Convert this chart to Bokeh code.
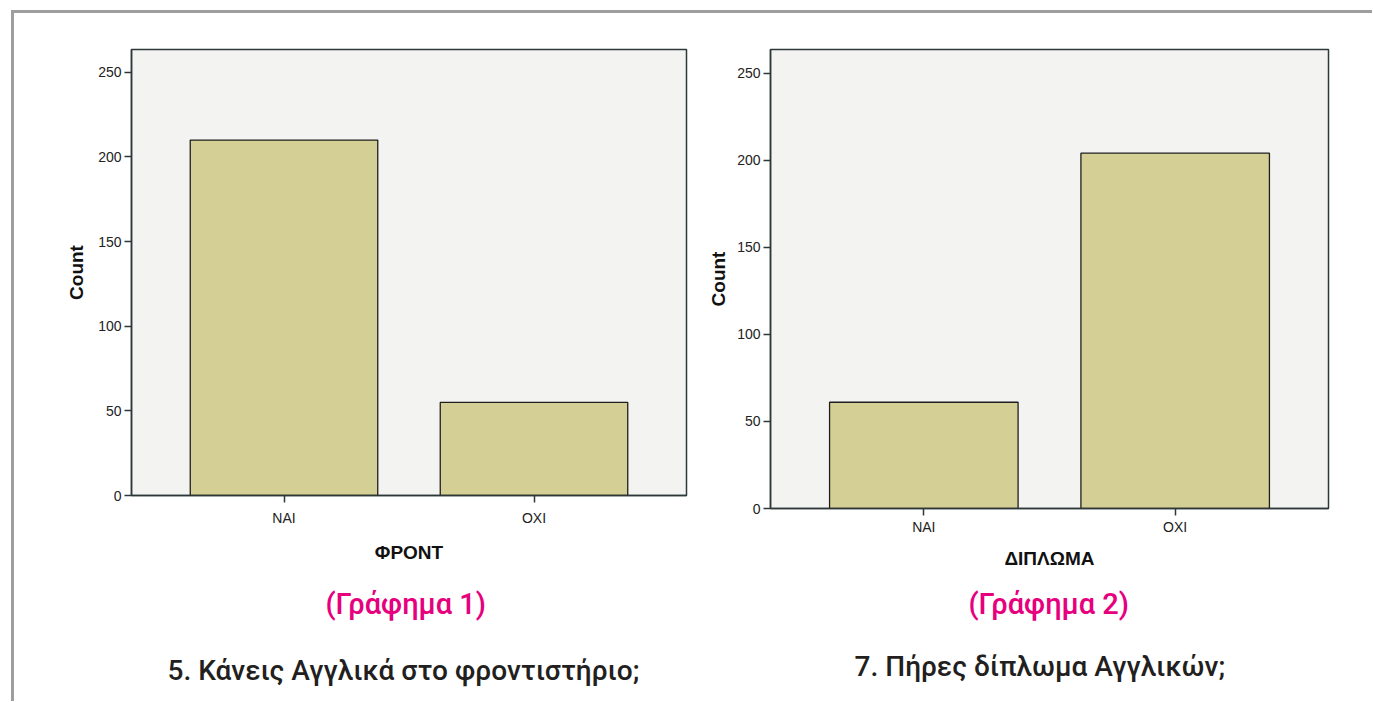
from bokeh.plotting import figure
from bokeh.layouts import row
from bokeh.models import Range1d, FixedTicker, Title
from bokeh.embed import file_html
from bokeh.resources import INLINE

# ---- data ----
categories = ["ΝΑΙ", "ΟΧΙ"]
front_counts = [210, 55]
diploma_counts = [61, 204]
y_ticks = [0, 50, 100, 150, 200, 250]
x_titles = ["ΦΡΟΝΤ", "ΔΙΠΛΩΜΑ"]
fig_labels = ["(Γράφημα 1)", "(Γράφημα 2)"]
questions = ["5. Κάνεις Αγγλικά στο φροντιστήριο;", "7. Πήρες δίπλωμα Αγγλικών;"]

BAR = "#d4cf94"
BG = "#f3f3f2"
DARK = "#2e3838"
MAGENTA = "#e6007e"
INK = "#231f20"
TICKFONT = "Liberation Sans"
CAPFONT = "Roboto Medium"


def make_chart(counts, xtitle, flabel, question, fw, fh, left, right, top, bottom,
               xlab_standoff, xtitle_standoff, ylab_standoff, t1_standoff, t2_standoff,
               t1_offset, t2_offset):
    p = figure(frame_width=fw, frame_height=fh, output_backend="svg", toolbar_location=None,
               x_range=Range1d(0.39, 2.61), y_range=Range1d(0, 263.5),
               min_border_left=left, min_border_right=right,
               min_border_top=top, min_border_bottom=bottom)
    xs = [i + 1 for i in range(len(categories))]
    p.vbar(x=xs, top=counts, width=0.75, fill_color=BAR, line_color="#1e1e1e", line_width=1.3)

    p.background_fill_color = BG
    p.border_fill_color = "white"
    p.outline_line_color = DARK
    p.outline_line_width = 1.5
    p.xgrid.visible = False
    p.ygrid.visible = False

    p.xaxis.ticker = FixedTicker(ticks=xs)
    p.xaxis.major_label_overrides = {x: c for x, c in zip(xs, categories)}
    p.yaxis.ticker = FixedTicker(ticks=y_ticks)
    for ax in (p.xaxis[0], p.yaxis[0]):
        ax.axis_line_color = DARK
        ax.axis_line_width = 1.5
        ax.major_tick_line_color = DARK
        ax.major_tick_line_width = 1.5
        ax.major_tick_in = 0
        ax.major_tick_out = 7
        ax.minor_tick_line_color = None
        ax.major_label_text_font = TICKFONT
        ax.major_label_text_font_size = "14px"
        ax.major_label_text_color = "#222222"
        ax.axis_label_text_font = "Liberation Sans"
        ax.axis_label_text_font_style = "bold"
        ax.axis_label_text_font_size = "19px"
        ax.axis_label_text_color = "#111111"
    p.yaxis.major_label_standoff = 3
    p.xaxis.major_label_standoff = xlab_standoff
    p.xaxis.axis_label = xtitle
    p.xaxis.axis_label_standoff = xtitle_standoff
    p.yaxis.axis_label = "Count"
    p.yaxis.axis_label_standoff = ylab_standoff

    p.add_layout(Title(text=flabel, align="left", text_font=CAPFONT, text_font_size="29px",
                       text_font_style="normal", text_color=MAGENTA, standoff=t1_standoff,
                       offset=t1_offset), "below")
    p.add_layout(Title(text=question, align="left", text_font=CAPFONT, text_font_size="28px",
                       text_font_style="normal", text_color=INK, standoff=t2_standoff,
                       offset=t2_offset), "below")
    return p


p1 = make_chart(front_counts, x_titles[0], fig_labels[0], questions[0],
                555, 446, 117, 14, 36, 206,
                7, 13, 8, 39, 22, 194, 36)
p2 = make_chart(diploma_counts, x_titles[1], fig_labels[1], questions[1],
                558, 459, 70, 44, 36, 193,
                3, 10, 5, 27, 26, 198, 84)

layout = row(p1, p2, styles={"margin-top": "10px", "margin-left": "11px",
                             "border-top": "3px solid #9e9e9e",
                             "border-left": "3px solid #9e9e9e"})

open("out.html", "w").write(file_html(layout, INLINE))
